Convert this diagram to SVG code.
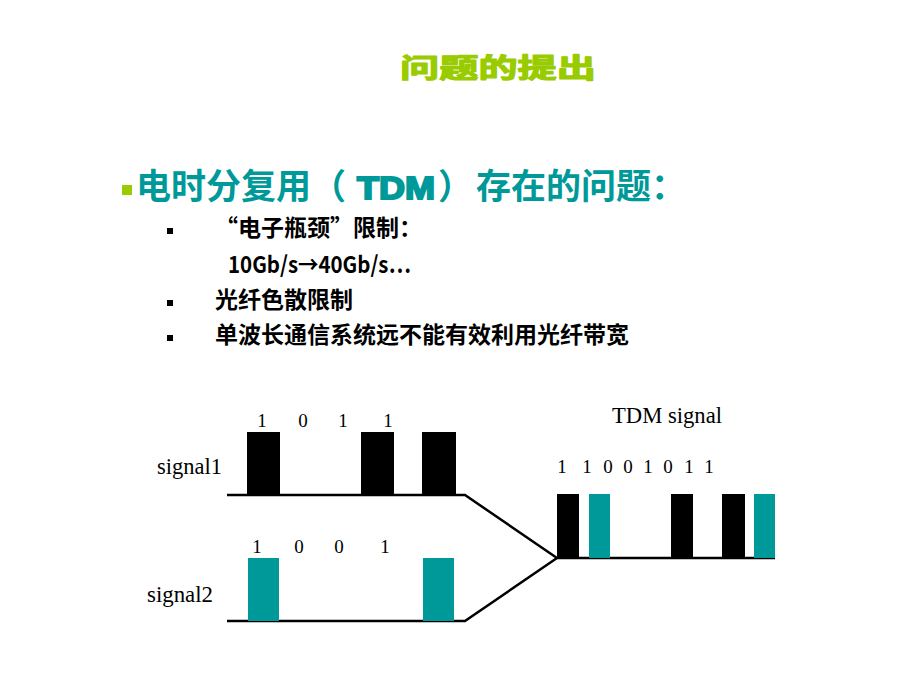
<svg xmlns="http://www.w3.org/2000/svg" width="920" height="690" viewBox="0 0 920 690">
<style>
.cjk{font-family:"Noto Sans CJK SC","Liberation Sans",sans-serif;font-weight:bold}
.title{fill:#99cc00;font-size:27px;stroke:#99cc00;stroke-width:1.2;stroke-linejoin:round}
.head{fill:#009999;font-size:35px}
.sub{fill:#000;font-size:23px}
.lat{font-family:"Liberation Sans",Arial,sans-serif;font-weight:bold}
.serif{font-family:"Liberation Serif","Times New Roman",serif;fill:#000}
.dig{font-size:19px;text-anchor:middle}
.lab{font-size:22.5px}
.blk{fill:#000}
.teal{fill:#009999}
.line{fill:none;stroke:#000;stroke-width:2.5;stroke-linejoin:miter}
.bul{fill:#000}
</style>
<rect width="920" height="690" fill="#fff"/>
<g id="title">
<text class="cjk title" x="400" y="78" textLength="196" lengthAdjust="spacingAndGlyphs">问题的提出</text>
</g>
<g id="heading">
<rect x="122" y="185" width="10" height="10" fill="#99cc00"/>
<text class="cjk head" y="199"><tspan x="136">电时分复用（</tspan><tspan x="357" class="lat" font-size="32" stroke="#009999" stroke-width="2" textLength="78" lengthAdjust="spacingAndGlyphs">TDM</tspan><tspan x="438">）</tspan><tspan x="476">存在的问题：</tspan></text>
</g>
<g id="bullets">
<rect class="bul" x="167" y="228" width="6" height="6"/>
<rect class="bul" x="167" y="300" width="6" height="6"/>
<rect class="bul" x="167" y="335" width="6" height="6"/>
<text class="cjk sub" x="215" y="236">“电子瓶颈”限制：</text>
<text class="cjk sub" x="228" y="273" font-size="21" textLength="183" lengthAdjust="spacingAndGlyphs">10Gb/s→40Gb/s…</text>
<text class="cjk sub" x="215" y="308">光纤色散限制</text>
<text class="cjk sub" x="215" y="343">单波长通信系统远不能有效利用光纤带宽</text>
</g>
<g id="connectors">
<path class="line" d="M227,495 H465 L557,558"/>
<path class="line" d="M227,621 H465 L557,558"/>
<path class="line" d="M557,558 H775"/>
</g>
<g id="signal1">
<rect class="blk" x="247" y="432" width="33" height="63"/>
<rect class="blk" x="361" y="432" width="33" height="63"/>
<rect class="blk" x="422" y="432" width="34" height="63"/>
<text class="serif dig" x="262" y="427">1</text>
<text class="serif dig" x="303" y="427">0</text>
<text class="serif dig" x="343" y="427">1</text>
<text class="serif dig" x="388" y="427">1</text>
<text class="serif lab" x="157" y="474" textLength="65" lengthAdjust="spacingAndGlyphs">signal1</text>
</g>
<g id="signal2">
<rect class="teal" x="248" y="558" width="31" height="63"/>
<rect class="teal" x="423" y="558" width="31" height="63"/>
<text class="serif dig" x="257" y="553">1</text>
<text class="serif dig" x="299" y="553">0</text>
<text class="serif dig" x="339" y="553">0</text>
<text class="serif dig" x="385" y="553">1</text>
<text class="serif lab" x="147" y="602" textLength="66" lengthAdjust="spacingAndGlyphs">signal2</text>
</g>
<g id="tdm">
<rect class="blk" x="557" y="494" width="22" height="64"/>
<rect class="teal" x="589" y="494" width="21" height="64"/>
<rect class="blk" x="671" y="494" width="22" height="64"/>
<rect class="blk" x="722" y="494" width="23" height="64"/>
<rect class="teal" x="754" y="494" width="21" height="64"/>
<text class="serif lab" x="612" y="423" textLength="110" lengthAdjust="spacingAndGlyphs">TDM signal</text>
<text class="serif dig" x="562" y="473">1</text>
<text class="serif dig" x="587" y="473">1</text>
<text class="serif dig" x="608" y="473">0</text>
<text class="serif dig" x="628" y="473">0</text>
<text class="serif dig" x="648" y="473">1</text>
<text class="serif dig" x="668" y="473">0</text>
<text class="serif dig" x="689" y="473">1</text>
<text class="serif dig" x="709" y="473">1</text>
</g>
</svg>
